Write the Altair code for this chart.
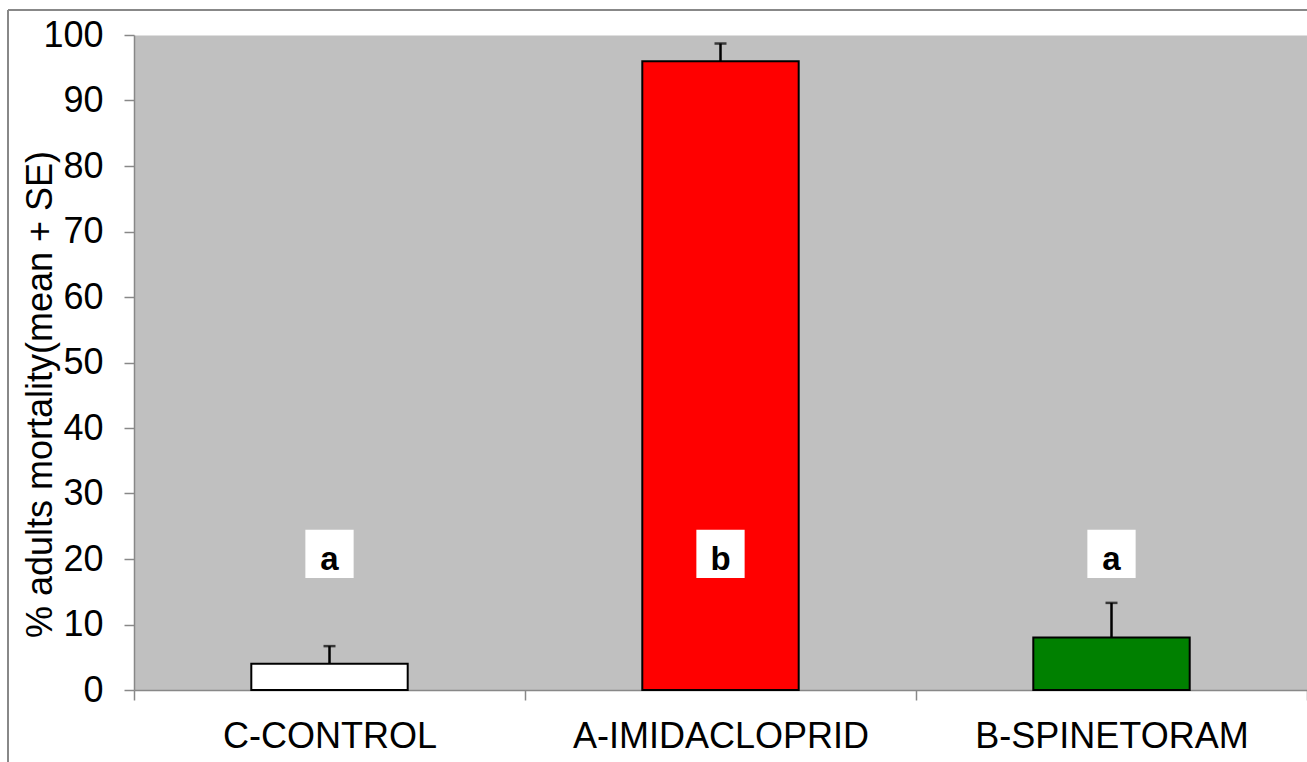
import altair as alt
import pandas as pd

categories = ["C-CONTROL", "A-IMIDACLOPRID", "B-SPINETORAM"]
means = [4.0, 96.0, 8.0]
ses = [2.7, 2.7, 5.3]
letters = ["a", "b", "a"]
letter_level = [20.8, 20.8, 20.8]
fills = ["#FFFFFF", "#FF0000", "#008000"]

df = pd.DataFrame({
    "cat": categories,
    "mean": means,
    "top": [m + s for m, s in zip(means, ses)],
    "letter": letters,
    "lvl": letter_level,
})

FONT = "Liberation Sans"
W, H = 1173, 655

x_enc = alt.X(
    "cat:N",
    sort=categories,
    scale=alt.Scale(domain=categories, paddingInner=0, paddingOuter=0),
    axis=alt.Axis(
        title=None,
        labelAngle=0,
        labelFontSize=36,
        labelFont=FONT,
        labelColor="black",
        labelPadding=19,
        labelLimit=0,
        tickBand="extent",
        tickSize=10,
        tickWidth=1.5,
        tickColor="#888888",
        domainColor="#888888",
        domainWidth=1.5,
    ),
)

y_scale = alt.Scale(domain=[0, 100], nice=False)
y_axis = alt.Axis(
    title="% adults mortality(mean + SE)",
    values=list(range(0, 101, 10)),
    grid=False,
    labelFontSize=36,
    labelFont=FONT,
    labelColor="black",
    labelPadding=21,
    tickSize=10,
    tickWidth=1.5,
    tickColor="#888888",
    domainColor="#888888",
    domainWidth=1.5,
    titleFont=FONT,
    titleFontSize=36,
    titleFontWeight="normal",
    titleColor="black",
    titleAngle=-90,
    titleAlign="center",
    titleBaseline="middle",
    titleX=-94,
    titleY=359,
)

base = alt.Chart(df)

bars = base.mark_bar(
    width=alt.RelativeBandSize(0.4), stroke="black", strokeWidth=2
).encode(
    x=x_enc,
    y=alt.Y("mean:Q", scale=y_scale, axis=y_axis),
    fill=alt.Fill("cat:N", scale=alt.Scale(domain=categories, range=fills), legend=None),
)

err = base.mark_rule(color="black", strokeWidth=2.5).encode(
    x=alt.X("cat:N", sort=categories),
    y="mean:Q",
    y2="top:Q",
)

caps = base.mark_tick(color="black", size=12, thickness=2.5).encode(
    x=alt.X("cat:N", sort=categories),
    y="top:Q",
)

boxes = base.mark_square(size=2330, color="white", opacity=1, filled=True).encode(
    x=alt.X("cat:N", sort=categories),
    y="lvl:Q",
)

texts = base.mark_text(
    font=FONT, fontSize=33, fontWeight="bold", color="black", baseline="middle", dy=6
).encode(
    x=alt.X("cat:N", sort=categories),
    y="lvl:Q",
    text="letter:N",
)

frame_data = alt.Data(values=[{"k": 1}])
frame_v = alt.Chart(frame_data).mark_rule(color="#888888", strokeWidth=2).encode(
    x=alt.value(-126), y=alt.value(-25), y2=alt.value(H + 80)
)
frame_h = alt.Chart(frame_data).mark_rule(color="#888888", strokeWidth=2).encode(
    x=alt.value(-126), x2=alt.value(W + 10), y=alt.value(-25)
)

chart = (
    alt.layer(bars, err, caps, boxes, texts, frame_v, frame_h)
    .properties(
        width=W,
        height=H,
        autosize=alt.AutoSizeParams(type="none"),
        padding={"left": 134, "top": 35, "right": 0, "bottom": 72},
        background="white",
    )
    .configure_view(fill="#C0C0C0", strokeOpacity=0)
)

chart.save("out.html", embed_options={"renderer": "svg", "actions": False})
